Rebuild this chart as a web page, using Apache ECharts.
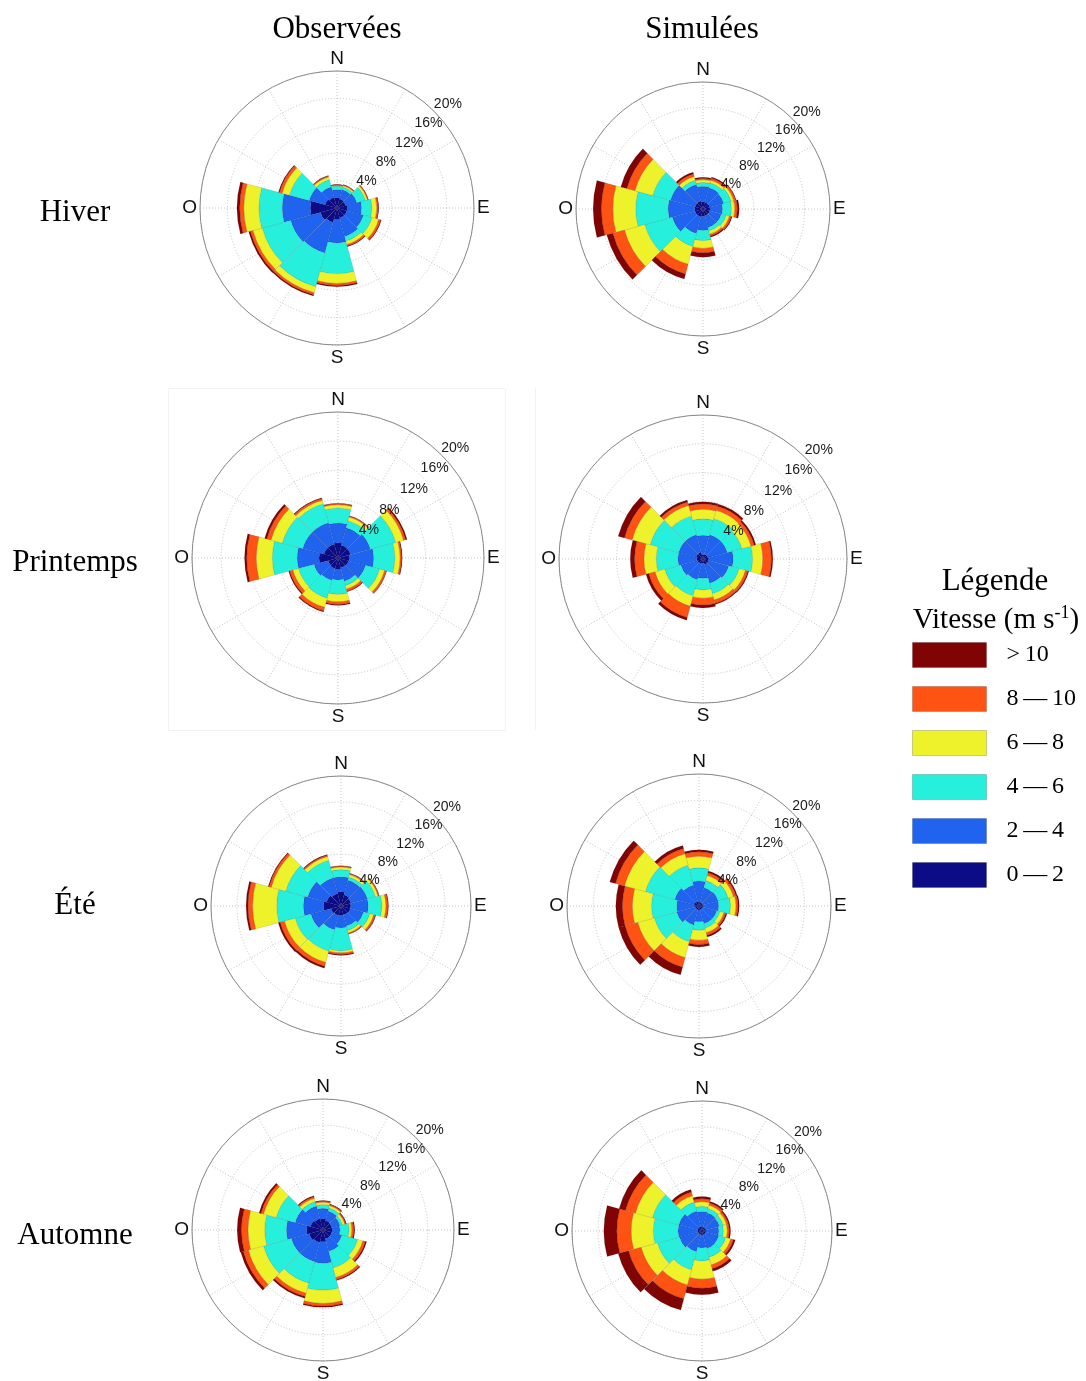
<!DOCTYPE html>
<html>
<head>
<meta charset="utf-8">
<script src="https://cdn.jsdelivr.net/npm/echarts@6/dist/echarts.min.js"></script>
<style>
  html, body { margin: 0; padding: 0; background: #fff; }
  #chart { width: 1086px; height: 1381px; }
</style>
</head>
<body>
<div id="chart"></div>
<script>
// Wind directions (compass sectors of 30°, clockwise from north)
const directions = ['N', '30', '60', 'E', '120', '150', 'S', '210', '240', 'O', '300', '330'];

// Speed classes (m s-1), from calm to strong
const speedClasses = ['0\u2009\u2014\u20092', '2\u2009\u2014\u20094', '4\u2009\u2014\u20096',
                      '6\u2009\u2014\u20098', '8\u2009\u2014\u200910', '>\u200910'];

// Radial tick values (% of observations)
const ringTicks = [4, 8, 12, 16, 20];

// Cardinal labels on the angle axis (degrees -> label)
const compassLabels = { 0: 'N', 90: 'E', 180: 'S', 270: 'O' };

// Cumulative frequency (%) per direction, up to the top of each speed class
// rows follow `directions`, columns follow `speedClasses`
const hiverObs = [
  [1.5, 2.7, 3.2, 3.3, 3.4, 3.45],
  [1.4, 2.8, 3.2, 3.4, 3.5, 3.55],
  [1.3, 3.0, 4.3, 4.6, 4.7, 4.75],
  [1.5, 3.6, 5.1, 5.8, 6.0, 6.1],
  [1.5, 4.0, 5.3, 6.3, 6.6, 6.7],
  [1.5, 4.3, 5.0, 5.5, 5.75, 5.85],
  [1.7, 5.1, 9.6, 11.0, 11.3, 11.5],
  [2.2, 6.8, 11.9, 12.8, 13.1, 13.3],
  [2.5, 7.0, 11.3, 12.7, 13.1, 13.35],
  [3.9, 8.0, 11.4, 13.6, 14.2, 14.6],
  [1.8, 4.2, 7.2, 8.3, 8.7, 8.85],
  [1.6, 3.2, 4.3, 4.7, 4.85, 4.9]
];
const hiverSim = [
  [1.2, 3.6, 4.2, 4.6, 4.8, 5.0],
  [1.1, 3.5, 4.3, 4.7, 5.0, 5.2],
  [1.1, 3.4, 4.6, 5.0, 5.3, 5.4],
  [1.1, 3.1, 4.5, 5.0, 5.4, 5.7],
  [1.1, 3.0, 3.8, 4.3, 4.6, 4.75],
  [1.1, 3.0, 3.6, 4.1, 4.4, 4.6],
  [1.2, 3.4, 5.0, 6.2, 6.9, 7.6],
  [1.3, 4.0, 6.1, 9.0, 10.6, 11.4],
  [1.3, 5.0, 9.5, 12.8, 14.7, 15.7],
  [1.3, 5.5, 10.6, 14.2, 16.0, 17.3],
  [1.3, 5.3, 8.2, 11.1, 12.4, 13.4],
  [1.3, 4.0, 4.7, 5.3, 5.7, 6.0]
];
const printempsObs = [
  [2.1, 4.8, 6.85, 7.3, 7.45, 7.5],
  [1.8, 4.3, 5.3, 5.8, 5.95, 6.0],
  [1.8, 4.6, 8.2, 9.3, 9.6, 9.8],
  [1.6, 4.9, 7.8, 8.5, 8.7, 8.8],
  [1.5, 3.9, 5.9, 6.6, 6.85, 6.9],
  [1.4, 3.3, 3.9, 4.4, 4.7, 4.8],
  [1.6, 3.0, 5.0, 6.0, 6.35, 6.5],
  [1.5, 3.2, 5.7, 7.0, 7.5, 7.65],
  [1.4, 3.4, 5.6, 6.4, 6.85, 7.0],
  [2.6, 5.6, 9.0, 11.2, 12.5, 12.8],
  [2.0, 5.0, 7.9, 9.5, 10.1, 10.4],
  [2.0, 5.0, 7.7, 8.2, 8.45, 8.55]
];
const printempsSim = [
  [0.6, 3.3, 5.6, 6.9, 7.65, 7.95],
  [0.7, 3.5, 5.8, 7.0, 7.6, 7.9],
  [0.7, 3.5, 5.6, 6.9, 7.35, 7.6],
  [0.8, 4.2, 6.9, 8.3, 9.5, 9.7],
  [0.8, 3.7, 5.2, 6.1, 6.45, 6.6],
  [0.8, 3.5, 5.0, 5.9, 6.4, 6.55],
  [0.6, 2.7, 4.3, 5.45, 6.4, 6.8],
  [0.7, 3.0, 5.3, 6.8, 8.4, 8.8],
  [0.8, 3.2, 5.5, 6.9, 7.8, 8.2],
  [0.9, 3.5, 6.5, 8.2, 9.5, 10.1],
  [1.0, 3.5, 7.6, 10.2, 11.3, 12.2],
  [1.0, 3.5, 6.2, 7.7, 8.2, 8.5]
];
const eteObs = [
  [2.2, 4.5, 5.6, 6.0, 6.15, 6.2],
  [1.8, 4.1, 4.6, 5.0, 5.15, 5.2],
  [1.6, 4.2, 5.5, 5.9, 6.05, 6.1],
  [1.5, 4.2, 6.3, 6.9, 7.2, 7.3],
  [1.5, 3.6, 4.6, 5.2, 5.45, 5.55],
  [1.4, 3.2, 3.9, 4.3, 4.45, 4.5],
  [1.4, 3.4, 6.9, 7.2, 7.45, 7.6],
  [1.5, 3.8, 7.2, 9.0, 9.6, 9.9],
  [1.6, 4.8, 7.3, 9.0, 9.7, 10.0],
  [2.7, 5.8, 9.9, 13.6, 14.3, 14.6],
  [2.3, 5.3, 8.8, 11.1, 11.45, 11.6],
  [2.0, 4.5, 7.3, 7.9, 8.1, 8.2]
];
const eteSim = [
  [0.6, 3.8, 5.8, 7.55, 8.2, 8.5],
  [0.6, 2.9, 4.0, 4.8, 5.2, 5.5],
  [0.6, 3.0, 4.6, 5.4, 5.8, 6.0],
  [0.6, 3.0, 4.8, 5.6, 5.9, 6.1],
  [0.6, 2.8, 3.3, 3.9, 4.2, 4.4],
  [0.6, 2.8, 3.5, 4.2, 4.6, 4.85],
  [0.6, 2.4, 3.7, 5.2, 5.85, 6.2],
  [0.6, 3.0, 5.6, 8.1, 9.6, 10.8],
  [0.6, 3.5, 7.0, 9.6, 11.6, 12.6],
  [0.6, 3.4, 7.2, 10.1, 11.6, 12.6],
  [0.8, 3.8, 8.4, 11.7, 13.1, 14.0],
  [0.7, 3.3, 6.4, 8.2, 9.0, 9.5]
];
const automneObs = [
  [1.7, 3.3, 3.9, 4.25, 4.4, 4.5],
  [1.5, 3.0, 3.5, 3.85, 4.0, 4.1],
  [1.4, 2.7, 3.1, 3.45, 3.6, 3.7],
  [1.4, 2.6, 4.0, 4.4, 4.7, 4.85],
  [1.4, 3.0, 5.5, 6.3, 6.7, 6.9],
  [1.4, 3.4, 6.0, 7.5, 7.85, 8.0],
  [1.8, 5.1, 9.2, 11.2, 11.6, 11.8],
  [2.0, 5.0, 8.4, 10.0, 10.5, 10.8],
  [2.2, 5.0, 9.4, 11.8, 12.6, 13.0],
  [2.5, 5.6, 8.9, 11.45, 12.45, 13.1],
  [2.0, 4.4, 7.4, 9.4, 9.8, 10.1],
  [1.8, 3.8, 4.5, 5.0, 5.25, 5.4]
];
const automneSim = [
  [0.6, 3.0, 3.8, 4.5, 4.95, 5.3],
  [0.6, 2.9, 3.6, 4.1, 4.45, 4.7],
  [0.6, 2.8, 3.4, 3.9, 4.2, 4.4],
  [0.6, 2.6, 3.3, 3.9, 4.2, 4.4],
  [0.6, 2.7, 3.8, 4.6, 5.0, 5.3],
  [0.6, 2.8, 4.2, 5.4, 6.0, 6.4],
  [0.6, 2.6, 4.6, 7.4, 8.8, 9.8],
  [0.6, 3.3, 6.2, 8.6, 10.8, 12.6],
  [0.6, 3.6, 7.1, 9.7, 11.7, 13.35],
  [0.7, 3.7, 7.5, 10.9, 13.1, 15.1],
  [0.7, 3.7, 7.9, 10.6, 12.2, 13.2],
  [0.7, 3.2, 4.6, 5.6, 6.2, 6.6]
];

// Column and row headings
const columnTitles = ['Observées', 'Simulées'];
const seasonNames = ['Hiver', 'Printemps', 'Été', 'Automne'];

// Colours of the speed classes (jet-like ramp)
const classColors = ['#0c0c86', '#1f63ef', '#26f0dc', '#eef22a', '#ff5314', '#800404'];

// Placement of each rose on the page
const roses = [
  { data: hiverObs,     center: [337, 208],  radius: 137 },
  { data: hiverSim,     center: [703, 209],  radius: 127 },
  { data: printempsObs, center: [338, 558],  radius: 146 },
  { data: printempsSim, center: [703, 559],  radius: 144 },
  { data: eteObs,       center: [341, 906],  radius: 130 },
  { data: eteSim,       center: [699, 906],  radius: 132 },
  { data: automneObs,   center: [323, 1230], radius: 131 },
  { data: automneSim,   center: [702, 1231], radius: 130 }
];

const SANS = '"Liberation Sans", Arial, sans-serif';
const SERIF = '"Liberation Serif", "Times New Roman", serif';
const rMax = ringTicks[ringTicks.length - 1];

const polar = [], angleAxis = [], radiusAxis = [], series = [];

roses.forEach((rose, k) => {
  const base = polar.length;
  // 0: grid (rings, spokes, cardinal labels)
  // 1: stacked sectors
  // 2: ring percentage labels along the NE diagonal
  for (let i = 0; i < 3; i++) polar.push({ center: rose.center, radius: rose.radius });

  angleAxis.push({
    polarIndex: base, type: 'value', min: 0, max: 360, interval: 30,
    startAngle: 90, clockwise: true, z: 0,
    axisLine: { show: true, lineStyle: { color: '#8a8a8a', width: 1 } },
    axisTick: { show: false },
    splitLine: { show: true, lineStyle: { color: '#c4c4c4', type: [1, 2], width: 1 } },
    axisLabel: {
      show: true, margin: 3, color: '#111', fontFamily: SANS, fontSize: 19,
      formatter: v => compassLabels[v] || ''
    }
  });
  radiusAxis.push({
    polarIndex: base, type: 'value', min: 0, max: rMax, interval: ringTicks[0], z: 0,
    axisLine: { show: false }, axisTick: { show: false }, axisLabel: { show: false },
    splitLine: { show: true, lineStyle: { color: '#c4c4c4', type: [1, 2], width: 1 } }
  });

  angleAxis.push({
    polarIndex: base + 1, type: 'category', data: directions,
    startAngle: 90 + 180 / directions.length, clockwise: true, boundaryGap: true,
    axisLine: { show: false }, axisTick: { show: false }, axisLabel: { show: false },
    splitLine: { show: false }
  });
  radiusAxis.push({
    polarIndex: base + 1, type: 'value', min: 0, max: rMax,
    axisLine: { show: false }, axisTick: { show: false }, axisLabel: { show: false },
    splitLine: { show: false }
  });

  angleAxis.push({
    polarIndex: base + 2, type: 'value', min: 0, max: 360, startAngle: 45,
    axisLine: { show: false }, axisTick: { show: false }, axisLabel: { show: false },
    splitLine: { show: false }
  });
  radiusAxis.push({
    polarIndex: base + 2, type: 'value', min: 0, max: rMax, interval: ringTicks[0], z: 10,
    axisLine: { show: false }, axisTick: { show: false }, splitLine: { show: false },
    axisLabel: {
      show: true, margin: 0, align: 'left', verticalAlign: 'bottom',
      color: '#1a1a1a', fontFamily: SANS, fontSize: 14,
      formatter: v => (ringTicks.indexOf(v) >= 0 ? v + '%' : '')
    }
  });

  speedClasses.forEach((name, c) => {
    series.push({
      type: 'bar', name, coordinateSystem: 'polar', polarIndex: base + 1,
      stack: 'rose' + k, barCategoryGap: '0%', z: 2, silent: true,
      itemStyle: { color: classColors[c], borderColor: 'rgba(0,0,0,0.16)', borderWidth: 0.6 },
      data: rose.data.map(row => +(row[c] - (c ? row[c - 1] : 0)).toFixed(2))
    });
  });
});

const headingStyle = t => ({ text: t, font: '31px ' + SERIF, fill: '#000', align: 'center', verticalAlign: 'middle' });
const graphic = [
  // faint frame around the spring panels
  { type: 'rect', shape: { x: 168.5, y: 388.5, width: 337, height: 342 }, z: -1,
    style: { fill: null, stroke: '#f2f2f2', lineWidth: 1 } },
  { type: 'line', shape: { x1: 535.5, y1: 388, x2: 535.5, y2: 730 }, z: -1,
    style: { stroke: '#f2f2f2', lineWidth: 1 } }
];
columnTitles.forEach((t, i) => {
  graphic.push({ type: 'text', x: [337, 702][i], y: 30, style: headingStyle(t) });
});
seasonNames.forEach((t, i) => {
  graphic.push({ type: 'text', x: 75, y: [213, 563, 906, 1236][i], style: headingStyle(t) });
});
graphic.push({ type: 'text', x: 995, y: 582, style: headingStyle('Légende') });
graphic.push({ type: 'text', x: 996, y: 620,
  style: {
    text: '{a|Vitesse (m s}{s|-1}{a|)}', align: 'center', verticalAlign: 'middle',
    rich: {
      a: { fontFamily: SERIF, fontSize: 29, fill: '#000', lineHeight: 32 },
      s: { fontFamily: SERIF, fontSize: 18, fill: '#000', lineHeight: 32, padding: [0, 0, 13, 0] }
    }
  } });

const chart = echarts.init(document.getElementById('chart'), null, { renderer: 'canvas' });
chart.setOption({
  backgroundColor: '#fff',
  animation: false,
  polar, angleAxis, radiusAxis, series, graphic,
  legend: {
    data: speedClasses.slice().reverse(),
    orient: 'vertical', left: 912, top: 642, padding: 0,
    icon: 'rect', itemWidth: 74, itemHeight: 25, itemGap: 18,
    selectedMode: false,
    itemStyle: { borderColor: 'rgba(0,0,0,0.18)', borderWidth: 1 },
    formatter: n => '{t|' + n + '}',
    textStyle: {
      color: '#000',
      rich: { t: { fontFamily: SERIF, fontSize: 24, lineHeight: 25, padding: [0, 0, 0, 15], color: '#000' } }
    }
  }
});
</script>
</body>
</html>
